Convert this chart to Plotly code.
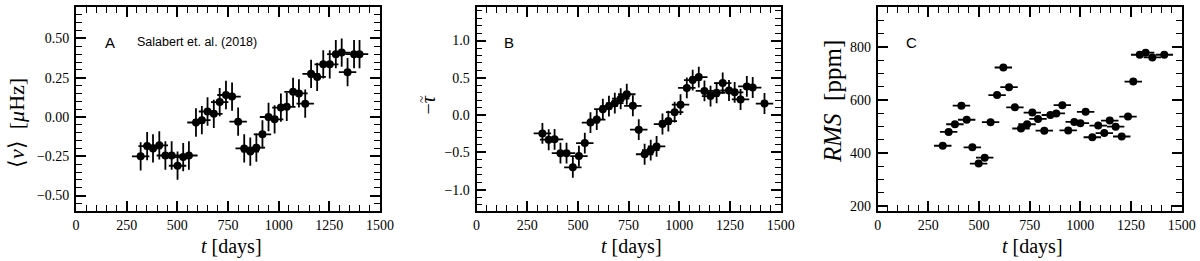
import plotly.graph_objects as go

# ---------------- data ----------------
days_a = [319, 351, 380, 411, 441, 472, 501, 529, 557, 592, 621, 649, 680, 709, 740, 770, 800,
          830, 860, 890, 920, 950, 980, 1011, 1040, 1071, 1100, 1131, 1160, 1190, 1220, 1252,
          1282, 1311, 1340, 1372, 1399]
nu_a = [-0.25, -0.185, -0.20, -0.18, -0.245, -0.245, -0.31, -0.255, -0.245, -0.035, -0.02, 0.035,
        0.02, 0.095, 0.14, 0.13, -0.03, -0.20, -0.22, -0.195, -0.11, 0.0, -0.015, 0.06, 0.065,
        0.16, 0.15, 0.085, 0.275, 0.255, 0.335, 0.335, 0.40, 0.41, 0.285, 0.40, 0.40]

days_b = [325, 356, 385, 414, 444, 475, 505, 534, 562, 593, 623, 653, 682, 711, 741, 771, 800,
          829, 859, 888, 917, 946, 977, 1006, 1037, 1066, 1096, 1124, 1154, 1184, 1214, 1245,
          1273, 1302, 1333, 1362, 1420]
tau_b = [-0.245, -0.33, -0.325, -0.51, -0.51, -0.70, -0.55, -0.375, -0.10, -0.06, 0.08, 0.12,
         0.16, 0.22, 0.28, 0.125, -0.195, -0.525, -0.47, -0.42, -0.12, -0.08, 0.04, 0.14, 0.365,
         0.47, 0.51, 0.325, 0.255, 0.30, 0.43, 0.33, 0.305, 0.21, 0.385, 0.37, 0.155]

days_c = [321, 350, 381, 413, 439, 467, 498, 528, 557, 589, 620, 648, 677, 707, 737, 763, 791,
          822, 852, 881, 911, 940, 970, 1000, 1026, 1059, 1088, 1118, 1145, 1174, 1204, 1235,
          1261, 1293, 1322, 1355, 1414]
rms_c = [427, 479, 508, 578, 525, 421, 360, 382, 516, 618, 722, 648, 572, 492, 508, 552, 528,
         484, 543, 549, 580, 485, 517, 512, 555, 459, 503, 475, 522, 499, 462, 537, 669, 770,
         778, 760, 770]

xerr_days = 43
yerr_nu = 0.09
yerr_tau = 0.14

x_ticks = [0, 250, 500, 750, 1000, 1250, 1500]

SERIF = "Liberation Serif"
SANS = "Liberation Sans"

fig = go.Figure()

def add_series(x, y, xref, yref, yerr=None):
    kw = dict(
        x=x, y=y, mode="markers",
        marker=dict(color="black", size=8),
        error_x=dict(type="constant", value=xerr_days, thickness=1.8, width=0, color="black"),
        xaxis=xref, yaxis=yref, showlegend=False,
    )
    if yerr is not None:
        kw["error_y"] = dict(type="constant", value=yerr, thickness=1.8, width=0, color="black")
    fig.add_trace(go.Scatter(**kw))

add_series(days_a, nu_a, "x", "y", yerr_nu)
add_series(days_b, tau_b, "x2", "y2", yerr_tau)
add_series(days_c, rms_c, "x3", "y3", None)

H = 261.0
W = 1200.0
ytop, ybot = 7.0, 211.3
ydom = [1 - ybot / H, 1 - ytop / H]
xdoms = [[76 / W, 380 / W], [476.5 / W, 780.7 / W], [877.7 / W, 1181.7 / W]]

TICKFONT = dict(family=SERIF, size=14, color="black")

def minor(dt):
    return dict(dtick=dt, tick0=0, ticks="inside", ticklen=6, tickwidth=1.3, tickcolor="black")

yspecs = [([-0.6, 0.7], 0.25, 0.05, ".2f"),
          ([-1.29, 1.45], 0.5, 0.1, ".1f"),
          ([180, 950], 200, 50, "d")]

layout = dict(width=1200, height=261, margin=dict(l=0, r=0, t=0, b=0, autoexpand=False),
              paper_bgcolor="white", plot_bgcolor="white")

for i in range(3):
    xn = "xaxis" if i == 0 else f"xaxis{i+1}"
    yn = "yaxis" if i == 0 else f"yaxis{i+1}"
    xid = "x" if i == 0 else f"x{i+1}"
    yid = "y" if i == 0 else f"y{i+1}"
    rng, dt, mdt, fmt = yspecs[i]
    layout[xn] = dict(domain=xdoms[i], range=[0, 1500], tickvals=x_ticks, anchor=yid,
                      showline=True, linecolor="black", linewidth=1.8, mirror="allticks",
                      ticks="inside", ticklen=10, tickwidth=1.6, tickcolor="black",
                      minor=minor(50), showgrid=False, zeroline=False, automargin=False,
                      tickfont=TICKFONT, ticklabelstandoff=0)
    layout[yn] = dict(domain=ydom, range=rng, dtick=dt, tick0=0, tickformat=fmt, anchor=xid,
                      showline=True, linecolor="black", linewidth=1.8, mirror="allticks",
                      ticks="inside", ticklen=10, tickwidth=1.6, tickcolor="black",
                      minor=minor(mdt), showgrid=False, zeroline=False, automargin=False,
                      tickfont=TICKFONT, ticklabelstandoff=2)

fig.update_layout(**layout)

ann = []
TITLEFONT = dict(family=SERIF, size=20, color="black")
YTFONT = dict(family=SERIF, size=22, color="black")
for xc in [231.7, 631.7, 1032]:
    ann.append(dict(text="<i>t</i> [days]", x=xc / W, y=1 - 246 / H, xref="paper", yref="paper",
                    xanchor="center", yanchor="middle", showarrow=False, font=TITLEFONT))
ann.append(dict(text="⟨<i>ν</i>⟩\u2002[<i>μ</i>Hz]", x=16 / W, y=1 - 123 / H, xref="paper", yref="paper",
                xanchor="center", yanchor="middle", textangle=-90, showarrow=False, font=YTFONT))
ann.append(dict(text="−<i>τ</i>", x=427.5 / W, y=1 - 105 / H, xref="paper", yref="paper",
                xanchor="center", yanchor="middle", textangle=-90, showarrow=False, font=TITLEFONT))
ann.append(dict(text="~", x=421 / W, y=1 - 100 / H, xref="paper", yref="paper",
                xanchor="center", yanchor="middle", textangle=-90, showarrow=False,
                font=dict(family=SERIF, size=13, color="black")))
ann.append(dict(text="<i>RMS</i>\u2002[ppm]", x=833 / W, y=1 - 102 / H, xref="paper", yref="paper",
                xanchor="center", yanchor="middle", textangle=-90, showarrow=False,
                font=dict(family=SERIF, size=25, color="black")))
for txt, xc in [("A", 110), ("B", 509), ("C", 911.7)]:
    ann.append(dict(text=txt, x=xc / W, y=1 - 42 / H, xref="paper", yref="paper",
                    xanchor="center", yanchor="middle", showarrow=False,
                    font=dict(family=SANS, size=15, color="black")))
ann.append(dict(text="Salabert et. al. (2018)", x=135 / W, y=1 - 42 / H, xref="paper", yref="paper",
                xanchor="left", yanchor="middle", showarrow=False,
                font=dict(family=SANS, size=12.5, color="black")))
fig.update_layout(annotations=ann)

fig.write_html("out.html", config={"displayModeBar": False},
               post_script="document.body.style.margin='0px';document.body.style.padding='0px';")
